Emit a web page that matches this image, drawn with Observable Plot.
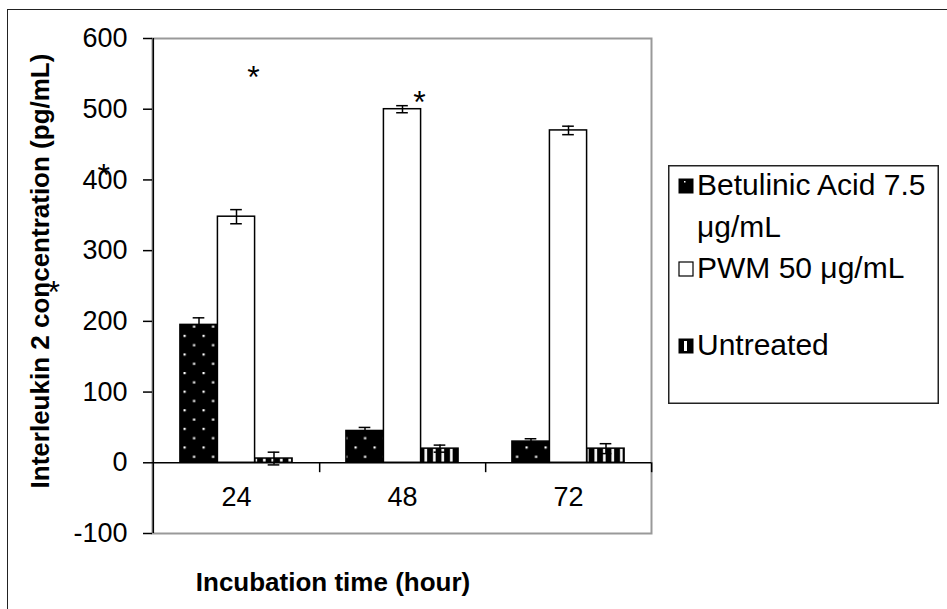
<!DOCTYPE html>
<html>
<head>
<meta charset="utf-8">
<script src="https://cdn.jsdelivr.net/npm/d3@7"></script>
<script src="https://cdn.jsdelivr.net/npm/@observablehq/plot@0.6"></script>
<style>
  body { margin: 0; background: #fff; font-family: "Liberation Sans", Arial, sans-serif; }
  #wrap { position: relative; width: 947px; height: 609px; overflow: hidden; background: #fff; }
  #border { position: absolute; left: 7px; top: 9px; width: 2000px; height: 2000px;
            border-left: 1.5px solid #222; border-top: 1.5px solid #222; }
  #chart { position: absolute; left: 0; top: 0; }
  #ytitle { position: absolute; left: 40px; top: 271px; transform: translate(-50%, -50%) rotate(-90deg);
            white-space: nowrap; font-weight: bold; font-size: 26px; }
  #xtitle { position: absolute; left: 333px; top: 582px; transform: translate(-50%, -50%);
            white-space: nowrap; font-weight: bold; font-size: 26px; }
  #legend { position: absolute; left: 668px; top: 165px; }
</style>
</head>
<body>
<div id="wrap">
  <div id="border"></div>
  <div id="chart"></div>
  <div id="ytitle">Interleukin 2 concentration (pg/mL)</div>
  <div id="xtitle">Incubation time (hour)</div>
  <div id="legend"></div>
</div>
<script>
// ---- data ----
const times = ["24", "48", "72"];
const seriesNames = ["Betulinic Acid 7.5 μg/mL", "PWM 50 μg/mL", "Untreated"];
const baValues = [195, 45, 30];
const baErrors = [10, 5, 4];
const pwmValues = [348, 500, 470];
const pwmErrors = [10, 5, 6];
const untreatedValues = [6, 20, 20];
const untreatedErrors = [9, 5, 7];
const yTicks = [-100, 0, 100, 200, 300, 400, 500, 600];
const starTimes = ["24", "48"];
const starValues = [545, 509];
const strayStarValues = [406, 240];

// ---- layout constants ----
const W = 947, H = 609;
const mL = 152, mR = 296, mT = 38, mB = 76;
const bandW = (W - mL - mR) / times.length;
const barW = 37.5;
const barInset = (bandW - barW) / 2;
const capW = 12;
const capInset = (bandW - capW) / 2;

const rows = (vals, errs) => times.map((t, i) => ({time: t, value: vals[i], err: errs[i]}));
const series = [
  {rows: rows(baValues, baErrors), fill: "url(#dots)", dx: -barW},
  {rows: rows(pwmValues, pwmErrors), fill: "#fff", dx: 0},
  {rows: rows(untreatedValues, untreatedErrors), fill: "url(#stripes)", dx: barW}
];

const marks = [Plot.frame({stroke: "#999", strokeWidth: 2})];
for (const s of series) {
  marks.push(Plot.barY(s.rows, {x: "time", y1: 0, y2: "value", dx: s.dx,
    insetLeft: barInset, insetRight: barInset, fill: s.fill, stroke: "#000", strokeWidth: 1.5}));
}
marks.push(Plot.ruleY([0], {stroke: "#000", strokeWidth: 1.5}));
marks.push(Plot.ruleX(times, {x: d => d, y1: 0, y2: -14, dx: bandW / 2, stroke: "#000", strokeWidth: 1.5}));
for (const s of series) {
  marks.push(Plot.ruleX(s.rows, {x: "time", y1: d => d.value - d.err, y2: d => d.value + d.err,
    dx: s.dx, stroke: "#000", strokeWidth: 1.5}));
  marks.push(Plot.tickY(s.rows, {x: "time", y: d => d.value + d.err, dx: s.dx,
    insetLeft: capInset, insetRight: capInset, stroke: "#000", strokeWidth: 1.5}));
  marks.push(Plot.tickY(s.rows, {x: "time", y: d => d.value - d.err, dx: s.dx,
    insetLeft: capInset, insetRight: capInset, stroke: "#000", strokeWidth: 1.5}));
}
marks.push(Plot.ruleX([times[0]], {x: d => d, dx: -bandW / 2, stroke: "#000", strokeWidth: 1.5}));
marks.push(Plot.axisY({ticks: yTicks, tickFormat: d => String(d), tickSize: 9, tickPadding: 16, fontSize: 27, label: null,
  stroke: "#000", strokeWidth: 1.5, fill: "#000"}));
marks.push(Plot.text(times, {x: d => d, text: d => d, frameAnchor: "bottom", dy: -28, fontSize: 27, fill: "#000"}));
marks.push(Plot.text(starTimes.map((t, i) => ({time: t, v: starValues[i]})),
  {x: "time", y: "v", text: () => "*", dx: 17, fontSize: 32, fill: "#000"}));
marks.push(Plot.text([strayStarValues[0]], {y: d => d, text: () => "*", frameAnchor: "left", dx: -55, fontSize: 32, fill: "#000"}));
marks.push(Plot.text([strayStarValues[1]], {y: d => d, text: () => "*", frameAnchor: "left", dx: -105, fontSize: 32, fill: "#000"}));

const svg = Plot.plot({
  width: W, height: H,
  marginLeft: mL, marginRight: mR, marginTop: mT, marginBottom: mB,
  style: {fontFamily: "'Liberation Sans', Arial, sans-serif", background: "transparent", color: "#000"},
  x: {domain: times, padding: 0, axis: null},
  y: {domain: [-100, 600], axis: null},
  marks
});

// patterns
const defs = d3.select(svg).insert("defs", ":first-child");
const dots = defs.append("pattern").attr("id", "dots").attr("patternUnits", "userSpaceOnUse")
  .attr("width", 19).attr("height", 18.6).attr("x", 183).attr("y", 0);
dots.append("rect").attr("width", 19).attr("height", 18.6).attr("fill", "#000");
dots.append("rect").attr("x", 0).attr("y", 0).attr("width", 2.2).attr("height", 2.2).attr("fill", "#fff");
dots.append("rect").attr("x", 9.5).attr("y", 9.3).attr("width", 2.2).attr("height", 2.2).attr("fill", "#fff");
const stripes = defs.append("pattern").attr("id", "stripes").attr("patternUnits", "userSpaceOnUse")
  .attr("width", 8.5).attr("height", 10).attr("x", 1.5).attr("y", 0);
stripes.append("rect").attr("width", 8.5).attr("height", 10).attr("fill", "#000");
stripes.append("rect").attr("x", 3).attr("width", 2.6).attr("height", 10).attr("fill", "#fff");

document.getElementById("chart").appendChild(svg);

// legend
const lg = d3.select("#legend").append("svg").attr("width", 272).attr("height", 240)
  .style("font-family", "'Liberation Sans', Arial, sans-serif");
lg.append("rect").attr("x", 0.75).attr("y", 0.75).attr("width", 269.5).attr("height", 237.5)
  .attr("fill", "#fff").attr("stroke", "#222").attr("stroke-width", 1.5);
const tx = 29, sx = 11, sw = 14;
const legendLines = [
  {lines: ["Betulinic Acid 7.5", "μg/mL"], base: 30, swatch: "ba"},
  {lines: ["PWM 50 μg/mL"], base: 113, swatch: "pwm"},
  {lines: ["Untreated"], base: 190, swatch: "un"}
];
legendLines.forEach((item, i) => {
  item.lines.forEach((ln, j) => {
    lg.append("text").attr("x", tx).attr("y", item.base + j * 42).attr("font-size", 30).attr("fill", "#000").text(ln);
  });
  const y0 = item.base - 16;
  if (item.swatch === "ba") {
    lg.append("rect").attr("x", sx).attr("y", y0).attr("width", sw).attr("height", sw).attr("fill", "#000").attr("stroke", "#000");
    lg.append("rect").attr("x", sx + 5).attr("y", y0 + 2).attr("width", 1.5).attr("height", 1.5).attr("fill", "#fff");
  } else if (item.swatch === "pwm") {
    lg.append("rect").attr("x", sx).attr("y", y0).attr("width", sw).attr("height", sw).attr("fill", "#fff").attr("stroke", "#000").attr("stroke-width", 1.2);
  } else {
    lg.append("rect").attr("x", sx).attr("y", y0).attr("width", sw).attr("height", sw).attr("fill", "#000").attr("stroke", "#000");
    lg.append("rect").attr("x", sx + 5).attr("y", y0 + 2).attr("width", 3).attr("height", sw - 4).attr("fill", "#fff");
  }
  lg.append("title").text(seriesNames[i]);
});
</script>
</body>
</html>
